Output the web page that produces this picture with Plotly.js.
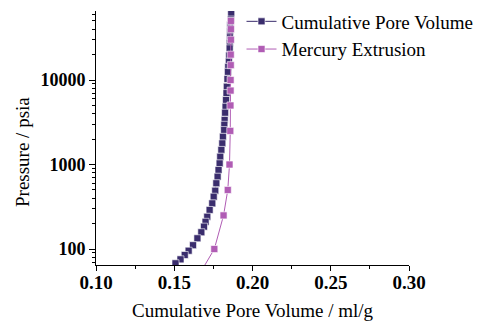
<!DOCTYPE html>
<html>
<head>
<meta charset="utf-8">
<script src="https://cdn.plot.ly/plotly-3.0.1.min.js"></script>
<style>html,body{margin:0;padding:0;background:#fff;}#chart{width:483px;height:321px;}</style>
</head>
<body>
<div id="chart"></div>
<script>
// Cumulative Pore Volume (intrusion) — pressure (psia) and volume (ml/g)
const cumPressure = [61500, 52000, 44800, 37500, 32000, 27500, 23700, 19500, 16500, 14300, 12500, 10300, 8340, 7000, 5800, 4830, 4100, 3370, 2950,
  2560, 2130, 1780, 1490, 1237, 1032, 861, 718, 600, 490, 416, 347, 290, 241, 210, 184, 158, 134, 111, 95.5, 85, 75.5, 67.8];
const cumVolume = [0.1864, 0.1862, 0.1858, 0.1857, 0.1856, 0.1855, 0.1854, 0.1851, 0.1849, 0.1845, 0.1843, 0.1840, 0.1836, 0.1834, 0.1831, 0.1828, 0.1825, 0.1822, 0.1820,
  0.1819, 0.1811, 0.1807, 0.1801, 0.1794, 0.1790, 0.1783, 0.1777, 0.1769, 0.1762, 0.1752, 0.1743, 0.1726, 0.1711, 0.1700, 0.1690, 0.1673, 0.1648, 0.1620, 0.1592, 0.1567, 0.1540, 0.1508];

// Mercury Extrusion
const extPressure = [50000, 40000, 30000, 20000, 15000, 10000, 7500, 5000, 2500, 1000, 500, 250, 100, 50];
const extVolume = [0.1862, 0.1862, 0.1862, 0.1861, 0.1861, 0.1860, 0.1860, 0.1859, 0.1858, 0.1853, 0.1842, 0.1815, 0.1756, 0.1660];

const seriesNames = ["Cumulative Pore Volume", "Mercury Extrusion"];
const xTickVals = [0.10, 0.15, 0.20, 0.25, 0.30];
const xTickText = ["0.10", "0.15", "0.20", "0.25", "0.30"];
const yTickVals = [100, 1000, 10000];
const yTickText = ["100", "1000", "10000"];
const yMinorVals = [70, 80, 90, 200, 300, 400, 500, 600, 700, 800, 900, 2000, 3000, 4000, 5000, 6000, 7000, 8000, 9000, 20000, 30000, 40000, 50000, 60000];
const xMinorVals = [0.125, 0.175, 0.225, 0.275];

const darkC = "#3a2d6d";
const pinkC = "#b05cb4";
const serif = "Liberation Serif, Times New Roman, serif";

const traces = [
  {x: cumVolume, y: cumPressure, name: seriesNames[0], type: "scatter", mode: "lines+markers",
   line: {color: darkC, width: 1}, marker: {symbol: "square", size: 7, color: darkC, line: {color: "#ffffff", width: 0.6}}, cliponaxis: true},
  {x: extVolume, y: extPressure, name: seriesNames[1], type: "scatter", mode: "lines+markers",
   line: {color: pinkC, width: 1}, marker: {symbol: "square", size: 7, color: pinkC, line: {color: "#ffffff", width: 0.6}}, cliponaxis: true}
];

const layout = {
  width: 483, height: 321,
  margin: {l: 96, r: 0, t: 0, b: 56, pad: 0},
  paper_bgcolor: "#ffffff", plot_bgcolor: "rgba(0,0,0,0)",
  font: {family: serif, color: "#000"},
  showlegend: true,
  legend: {x: 0.3760, y: 0.9906, xanchor: "left", yanchor: "top", bgcolor: "rgba(0,0,0,0)",
    font: {family: serif, size: 19, color: "#000"}, tracegroupgap: 0, itemwidth: 30},
  xaxis: {domain: [0, 0.8088], range: [0.10, 0.30], tickmode: "array", tickvals: xTickVals, ticktext: xTickText,
    ticks: "outside", ticklen: 5, tickwidth: 1, tickcolor: "#000", showline: true, linecolor: "#000", linewidth: 1,
    ticklabelstandoff: -5,
    showgrid: false, zeroline: false, tickfont: {family: serif, size: 19, color: "#000", weight: "bold"},
    minor: {tickmode: "array", tickvals: xMinorVals, ticks: "outside", ticklen: 3, tickcolor: "#000", showgrid: false}},
  yaxis: {domain: [0, 0.9585], type: "log", range: [1.811, 4.817], tickmode: "array", tickvals: yTickVals, ticktext: yTickText,
    ticks: "outside", ticklen: 6, tickwidth: 1, tickcolor: "#000", showline: true, linecolor: "#000", linewidth: 1,
    showgrid: false, zeroline: false, tickfont: {family: serif, size: 18, color: "#000", weight: "bold"},
    minor: {tickmode: "array", tickvals: yMinorVals, ticks: "outside", ticklen: 3, tickcolor: "#000", showgrid: false}},
  annotations: [
    {text: "Cumulative Pore Volume / ml/g", xref: "paper", yref: "paper", x: 0.4044, y: -0.1735, xanchor: "center", yanchor: "middle",
     showarrow: false, font: {family: serif, size: 19, color: "#000"}},
    {text: "Pressure / psia", xref: "paper", yref: "paper", x: -0.1912, y: 0.4264, xanchor: "center", yanchor: "middle",
     textangle: -90, showarrow: false, font: {family: serif, size: 19, color: "#000"}}
  ]
};

Plotly.newPlot("chart", traces, layout, {staticPlot: true, displayModeBar: false});
</script>
</body>
</html>
